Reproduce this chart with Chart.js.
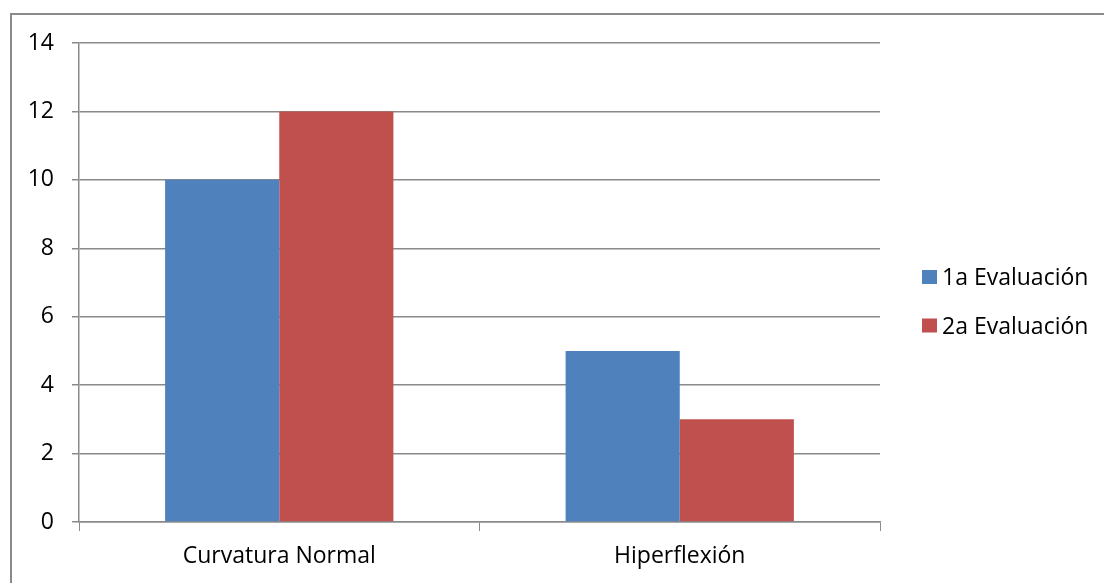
<!DOCTYPE html>
<html>
<head>
<meta charset="utf-8">
<script src="https://cdn.jsdelivr.net/npm/chart.js@4"></script>
<style>
  html, body { margin: 0; padding: 0; background: #ffffff; overflow: hidden; }
  #wrap { width: 1104px; height: 583px; position: relative; }
</style>
</head>
<body>
<div id="wrap"><canvas id="c" width="1104" height="583"></canvas></div>
<script>
const categories = ["Curvatura Normal", "Hiperflexión"];
const seriesNames = ["1a Evaluación", "2a Evaluación"];
const series1 = [10, 5];
const series2 = [12, 3];
const colors = ["#4F81BD", "#C0504D"];
const yMin = 0, yMax = 14, yStep = 2;

const FONT = "'Open Sans', Lato, sans-serif";
const FSIZE = 23;
const GRID = "#8a8a8a";

const frame = {
  id: "frame",
  beforeDraw(chart) {
    const ctx = chart.ctx;
    ctx.save();
    ctx.fillStyle = "#ffffff";
    ctx.fillRect(0, 0, chart.width, chart.height);
    ctx.strokeStyle = "#8a8a8a";
    ctx.lineWidth = 2;
    ctx.beginPath();
    ctx.moveTo(11, chart.height);
    ctx.lineTo(11, 14);
    ctx.lineTo(chart.width, 14);
    ctx.stroke();
    ctx.restore();
  },
  afterDraw(chart) {
    const ctx = chart.ctx;
    ctx.save();
    ctx.font = FSIZE + "px " + FONT;
    ctx.textBaseline = "alphabetic";
    ctx.textAlign = "left";
    const ys = [277, 325.5];
    chart.data.datasets.forEach((ds, i) => {
      ctx.fillStyle = ds.backgroundColor;
      ctx.fillRect(922, ys[i] - 7, 15, 14);
      ctx.fillStyle = "#000000";
      ctx.fillText(ds.label, 942, ys[i] + 8);
    });
    ctx.restore();
  }
};

new Chart(document.getElementById("c"), {
  type: "bar",
  data: {
    labels: categories,
    datasets: [
      { label: seriesNames[0], data: series1, backgroundColor: colors[0] },
      { label: seriesNames[1], data: series2, backgroundColor: colors[1] }
    ]
  },
  options: {
    responsive: false,
    animation: false,
    devicePixelRatio: 1,
    layout: { padding: { left: 10, top: 43, right: 224, bottom: 0 } },
    datasets: { bar: { categoryPercentage: 0.57, barPercentage: 1.0, borderWidth: 0 } },
    plugins: { legend: { display: false }, tooltip: { enabled: false }, title: { display: false } },
    scales: {
      x: {
        grid: { offset: true, drawOnChartArea: false, drawTicks: true, tickLength: 9, color: GRID, lineWidth: 1 },
        border: { color: GRID, width: 1.5 },
        ticks: { color: "#000000", font: { family: FONT, size: FSIZE }, padding: 12 },
        afterFit(scale) { scale.height = 61; }
      },
      y: {
        min: yMin, max: yMax,
        grid: { color: GRID, lineWidth: 1.5, drawTicks: true, tickLength: 7 },
        border: { color: GRID, width: 1.5 },
        ticks: { stepSize: yStep, color: "#000000", font: { family: FONT, size: FSIZE }, padding: 18 },
        afterFit(scale) { scale.width = 69; }
      }
    }
  },
  plugins: [frame]
});
</script>
</body>
</html>
